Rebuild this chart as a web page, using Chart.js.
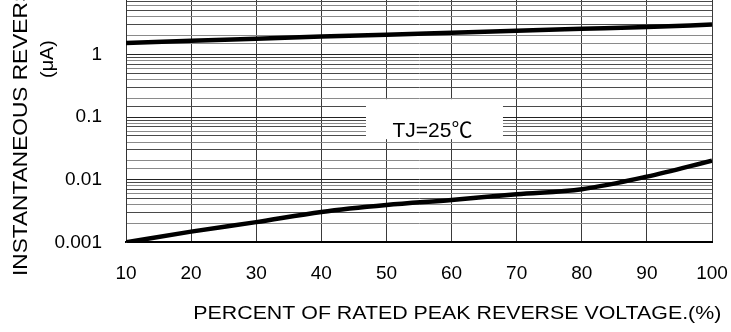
<!DOCTYPE html>
<html>
<head>
<meta charset="utf-8">
<script src="https://cdn.jsdelivr.net/npm/chart.js@4.4.1/dist/chart.umd.min.js"></script>
<style>
  html, body { margin: 0; padding: 0; background: #fff; overflow: hidden; width: 731px; height: 332px; }
  #wrap { position: absolute; left: 0; top: -8px; width: 731px; height: 340px; }
</style>
</head>
<body>
<div id="wrap"><canvas id="c" width="731" height="340"></canvas></div>
<script>
// ---- data ----
const percentVoltage = [10, 20, 30, 40, 50, 60, 70, 80, 90, 100];
const upperCurrent = [1.53, 1.66, 1.79, 1.94, 2.08, 2.24, 2.41, 2.58, 2.76, 3.02];
const lowerCurrent = [0.001, 0.00148, 0.0021, 0.00306, 0.00395, 0.00475, 0.00586, 0.00705, 0.0112, 0.0202];
const xTickLabels = [10, 20, 30, 40, 50, 60, 70, 80, 90, 100];
const yTickLabels = [0.001, 0.01, 0.1, 1];
const xTitle = 'PERCENT OF RATED PEAK REVERSE VOLTAGE.(%)';
const yTitleLine1 = 'INSTANTANEOUS REVERSE CURRENT';
const yTitleLine2 = '(\u03bcA)';
const curveLabel = 'TJ=25\u2103';
const labelAt = { x: 57.07, y: 0.0586 };

const FONT = '"Liberation Sans", Arial, sans-serif';
const LABEL_FONT = '"Liberation Sans", Arial, "Noto Sans CJK SC", sans-serif';

function pts(ys) { return percentVoltage.map((x, i) => ({ x: x, y: ys[i] })); }

const textPlugin = {
  id: 'texts',
  beforeDatasetsDraw(chart) {
    const ctx = chart.ctx;
    const xs = chart.scales.x, ys = chart.scales.y;
    const cx = xs.getPixelForValue(labelAt.x);
    const cy = ys.getPixelForValue(labelAt.y);
    ctx.save();
    ctx.fillStyle = '#fff';
    ctx.fillRect(cx - 66.5, cy - 32.5, 137, 40);
    ctx.fillStyle = '#000';
    ctx.font = '21px ' + LABEL_FONT;
    ctx.textAlign = 'center';
    ctx.textBaseline = 'middle';
    ctx.fillText(curveLabel, cx, cy);
    ctx.restore();
  },
  afterDraw(chart) {
    const ctx = chart.ctx;
    ctx.save();
    ctx.fillStyle = '#000';
    ctx.textAlign = 'left';
    ctx.textBaseline = 'alphabetic';
    // x title
    ctx.font = '18px ' + FONT;
    const w = ctx.measureText(xTitle).width;
    ctx.save();
    ctx.translate(193.3, 327.3);
    ctx.scale(528 / w, 1);
    ctx.fillText(xTitle, 0, 0);
    ctx.restore();
    // y title line 1
    ctx.font = '21px ' + FONT;
    ctx.save();
    ctx.translate(26.7, 284);
    ctx.rotate(-Math.PI / 2);
    ctx.scale(1.08, 1);
    ctx.fillText(yTitleLine1, 0, 0);
    ctx.restore();
    // y title line 2
    ctx.font = '18px ' + FONT;
    ctx.save();
    ctx.translate(53, 67);
    ctx.rotate(-Math.PI / 2);
    ctx.scale(1.1, 1);
    ctx.textAlign = 'center';
    ctx.fillText(yTitleLine2, 0, 0);
    ctx.restore();
    ctx.restore();
  }
};

new Chart(document.getElementById('c'), {
  type: 'line',
  data: {
    datasets: [
      { data: pts(upperCurrent), borderColor: '#000', borderWidth: 4.5, pointRadius: 0, cubicInterpolationMode: 'monotone', fill: false },
      { data: pts(lowerCurrent), borderColor: '#000', borderWidth: 4.5, pointRadius: 0, cubicInterpolationMode: 'monotone', fill: false }
    ]
  },
  options: {
    responsive: false,
    animation: false,
    devicePixelRatio: 1,
    layout: { padding: { left: 0, right: 19, top: 0, bottom: 0 } },
    plugins: { legend: { display: false }, tooltip: { enabled: false }, title: { display: false } },
    scales: {
      x: {
        type: 'linear',
        min: 10, max: 100,
        afterBuildTicks(scale) { scale.ticks = xTickLabels.map(v => ({ value: v })); },
        ticks: { color: '#000', font: { size: 19, family: FONT }, padding: 20, maxRotation: 0, autoSkip: false },
        grid: { color: '#3a3a3a', lineWidth: 1, drawTicks: false },
        border: { color: '#000', width: 2 },
        afterFit(scale) { scale.height = 89.7; scale.paddingLeft = 0; scale.paddingRight = 0; }
      },
      y: {
        type: 'logarithmic',
        min: 0.001, max: 10,
        ticks: {
          color: '#000', font: { size: 19, family: FONT }, padding: 24, autoSkip: false,
          callback(v) {
            const hit = yTickLabels.find(t => Math.abs(t - v) / t < 1e-6);
            return hit !== undefined ? String(hit) : '';
          }
        },
        grid: {
          drawTicks: false,
          lineWidth: 1,
          color(ctx) {
            const v = ctx.tick ? ctx.tick.value : 1;
            const m = v / Math.pow(10, Math.floor(Math.log10(v) + 1e-9));
            if (Math.abs(m - 1) < 1e-6) return '#222';
            return (Math.round(m) % 2 === 0) ? '#8a8a8a' : '#4a4a4a';
          }
        },
        border: { color: '#333', width: 1 },
        afterFit(scale) { scale.width = 126; scale.paddingTop = 0; scale.paddingBottom = 0; }
      }
    }
  },
  plugins: [textPlugin]
});
</script>
</body>
</html>
